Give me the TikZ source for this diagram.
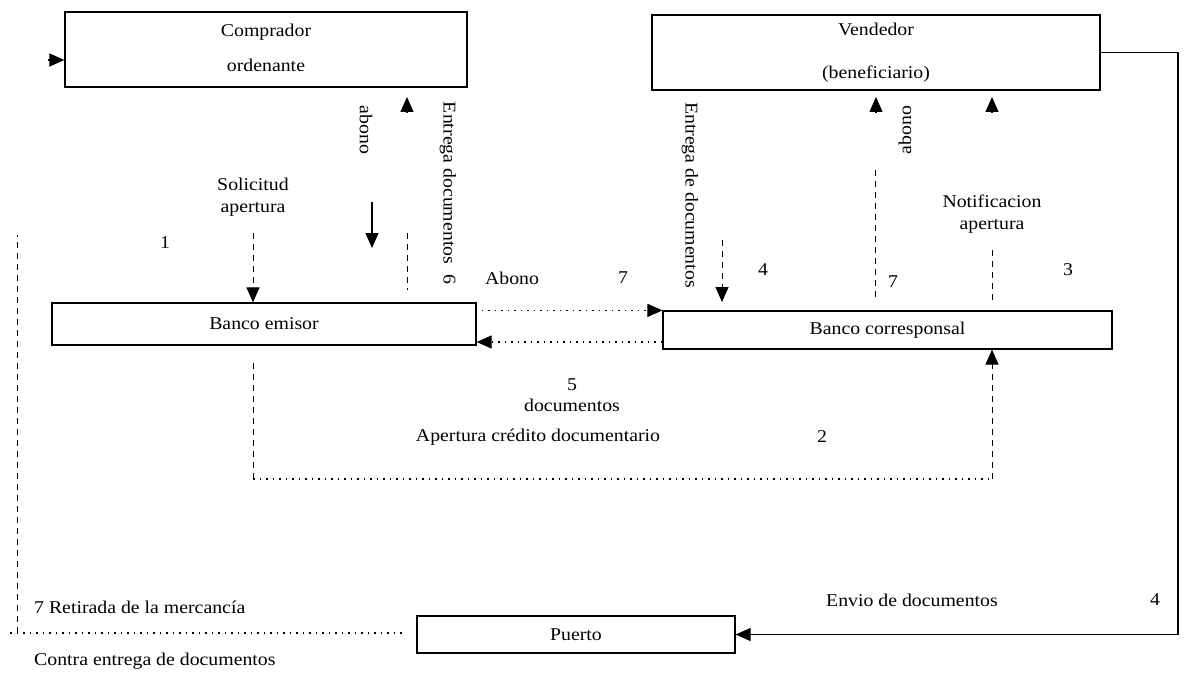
\documentclass[tikz,border=0pt]{standalone}
\usepackage{fontspec}
\setmainfont[FakeStretch=1.1]{Liberation Serif}
\usetikzlibrary{arrows.meta}
\begin{document}
\begin{tikzpicture}[x=1bp,y=-1bp,
  box/.style={draw,line width=1.2bp,inner sep=0pt,align=center},
  lbl/.style={inner sep=1bp,align=center},
  arr/.style={-{Triangle[length=15bp,width=13bp]}},
  vdash/.style={line width=1bp,dash pattern=on 6bp off 5bp},
  hdot/.style={line width=1.1bp,dash pattern=on 1.5bp off 5bp},
  sline/.style={line width=1.2bp},
  font=\fontsize{18bp}{22bp}\selectfont]
\useasboundingbox (0,0) rectangle (1186,675);

% boxes
\node[box,minimum width=402bp,minimum height=75bp] (comprador) at (266,49.5) {\raisebox{5bp}{\begin{tabular}{@{}c@{}}Comprador\\[13bp]ordenante\end{tabular}}};
\node[box,minimum width=448bp,minimum height=75bp] (vendedor) at (876,52.5) {Vendedor\\[21bp](beneficiario)};
\node[box,minimum width=424bp,minimum height=42bp] (emisor) at (264,324) {Banco emisor};
\node[box,minimum width=449bp,minimum height=38bp] (corresponsal) at (887.5,330) {Banco corresponsal};
\node[box,minimum width=318bp,minimum height=37bp] (puerto) at (576,634.5) {Puerto};

% 1 Solicitud apertura
\node[lbl] (solic) at (253,197) {Solicitud\\apertura};
\node[lbl] (n1) at (165,243) {1};
\coordinate (s1) at (253,233);
\draw[vdash,arr] (s1) -- (s1 |- emisor.north);

% abono (left) and Entrega documentos 6
\node[lbl,rotate=-90] (abonoL) at (366,130) {abono};
\coordinate (aL1) at (372,202);
\coordinate (aL2) at (372,248);
\draw[sline,arr] (aL1) -- (aL2);
\node[lbl,rotate=-90] (entr6) at (448,193) {Entrega documentos\ \ 6};
\coordinate (e6a) at (407,233);
\coordinate (e6b) at (407,290);
\coordinate (e6c) at (407,113);
\draw[vdash] (e6a) -- (e6b);
\draw[sline,arr] (e6c) -- (e6c |- 0,97);

% Abono 7
\node[lbl] (abono7) at (512,278) {Abono};
\node[lbl] (n7a) at (623,278) {7};
\draw[hdot,arr] ([xshift=5bp]emisor.east |- corresponsal.north west) -- (corresponsal.north west);

% 5 documentos
\coordinate (d5) at (0,342);
\draw[hdot,arr] (corresponsal.west |- d5) -- (emisor.east |- d5);
\node[lbl] (n5) at (572,385) {5};
\node[lbl] (docs5) at (572,405) {documentos};

% 2 Apertura credito documentario
\coordinate (ap1) at (253,363);
\coordinate (ap2) at (253,479);
\coordinate (ap3) at (992,479);
\draw[vdash] (ap1) -- (ap2);
\draw[hdot] (ap2) -- (ap3);
\draw[vdash,arr] (ap3) -- (ap3 |- corresponsal.south);
\node[lbl] (apert) at (538,437) {Apertura crédito documentario};
\node[lbl] (n2) at (822,437) {2};

% Entrega de documentos 4
\node[lbl,rotate=-90] (entr4) at (690,195) {Entrega de documentos};
\coordinate (e4a) at (722,240);
\draw[vdash,arr] (e4a) -- (722,302);
\node[lbl] (n4a) at (763,270) {4};

% abono 7 (right)
\node[lbl,rotate=90] (abonoR) at (905,130) {abono};
\node[lbl] (n7b) at (893,282) {7};
\coordinate (r7a) at (875,297);
\coordinate (r7b) at (875,165);
\draw[vdash] (r7a) -- (r7b);
\coordinate (r7c) at (876,113);
\draw[sline,arr] (r7c) -- (r7c |- 0,97);

% Notificacion apertura 3
\node[lbl] (notif) at (992,214) {Notificacion\\apertura};
\node[lbl] (n3) at (1068,270) {3};
\coordinate (n3a) at (992,250);
\coordinate (n3b) at (992,300);
\draw[vdash] (n3a) -- (n3b);
\coordinate (n3c) at (992,113);
\draw[sline,arr] (n3c) -- (n3c |- 0,97);

% Envio de documentos 4
\coordinate (rc) at (1178,0);
\draw[sline,arr] (vendedor.east) -- (rc |- vendedor.east) |- (puerto.east);
\node[lbl] (envio) at (912,600) {Envio de documentos};
\node[lbl] (n4b) at (1155,600) {4};

% 7 Retirada de la mercancia
\node[lbl,anchor=west] (retir) at (33,607) {7 Retirada de la mercancía};
\node[lbl,anchor=west] (contra) at (33,661) {Contra entrega de documentos};
\coordinate (lb) at (17,633);
\coordinate (lt) at (17,235);
\coordinate (l0) at (10,633);
\draw[hdot] (l0) -- ([xshift=-12bp]puerto.west |- lb);
\draw[vdash] (lb) -- (lt);
\coordinate (ca) at (48,60);
\draw[sline,arr] (ca) -- (comprador.west |- ca);
\end{tikzpicture}
\end{document}
